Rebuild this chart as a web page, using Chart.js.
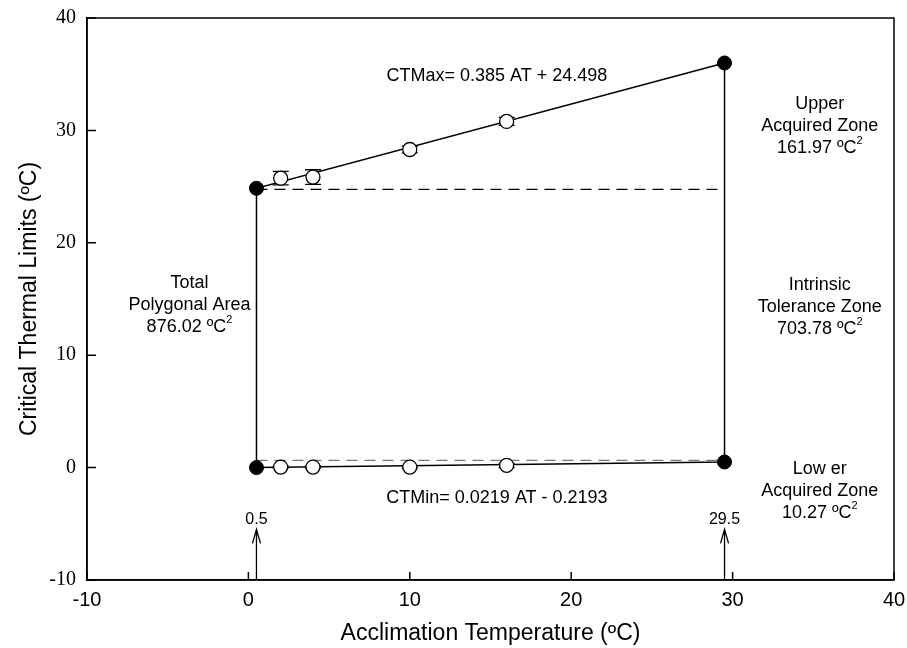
<!DOCTYPE html>
<html lang="en">

<head>
    <meta charset="UTF-8">
    <title>Critical Thermal Limits</title>
    <style>
        body { margin: 0; background: #fff; }
        #wrap { width: 907px; height: 648px; }
    </style>
</head>

<body>
    <div id="wrap">
        <canvas id="myChart" width="907" height="648"></canvas>
    </div>
    <script src="https://cdn.jsdelivr.net/npm/chart.js"></script>
    <script>
        // values
        const atLimits = [0.5, 29.5];
        const ctmaxLimits = [24.85, 36.0];
        const ctminLimits = [0.0, 0.5];
        const atMeans = [2, 4, 10, 16];
        const ctmaxMeans = [25.75, 25.85, 28.3, 30.8];
        const ctmaxErr = [0.6, 0.65, 0.3, 0.35];
        const ctminMeans = [0.05, 0.05, 0.05, 0.2];
        const ctminErr = [0.1, 0.1, 0.1, 0.2];
        const upperDashY = 24.75;
        const lowerDashY = 0.65;
        const arrowTop = -5.5;
        const axisMin = -10;
        const axisMax = 40;
        const tickStep = 10;

        const SANS = '"Liberation Sans", Arial, sans-serif';
        const SERIF = '"Liberation Serif", "Times New Roman", serif';

        const pts = (xs, ys) => xs.map((x, i) => ({ x: x, y: ys[i] }));

        const polygon = [
            { x: atLimits[0], y: ctminLimits[0] },
            { x: atLimits[0], y: ctmaxLimits[0] },
            { x: atLimits[1], y: ctmaxLimits[1] },
            { x: atLimits[1], y: ctminLimits[1] },
            { x: atLimits[0], y: ctminLimits[0] }
        ];

        // text blocks: [x, y, lines]
        const notes = [
            { x: 15.4, y: 34.8, lines: [['CTMax= 0.385 AT + 24.498', '']] },
            { x: 15.4, y: -2.7, lines: [['CTMin= 0.0219 AT - 0.2193', '']] },
            { x: -3.65, y: 14.45, lines: [['Total', ''], ['Polygonal Area', ''], ['876.02 ºC', '2']] },
            { x: 35.4, y: 30.4, lines: [['Upper', ''], ['Acquired Zone', ''], ['161.97 ºC', '2']] },
            { x: 35.4, y: 14.3, lines: [['Intrinsic', ''], ['Tolerance Zone', ''], ['703.78 ºC', '2']] },
            { x: 35.4, y: -2.1, lines: [['Low er', ''], ['Acquired Zone', ''], ['10.27 ºC', '2']] }
        ];

        const extras = {
            id: 'extras',
            beforeDatasetsDraw(chart) {
                const ctx = chart.ctx;
                const xs = chart.scales.x, ys = chart.scales.y;
                ctx.save();
                ctx.strokeStyle = '#000';
                ctx.lineWidth = 1.3;
                const bars = (means, errs) => {
                    atMeans.forEach((a, i) => {
                        const px = xs.getPixelForValue(a);
                        const top = ys.getPixelForValue(means[i] + errs[i]);
                        const bot = ys.getPixelForValue(means[i] - errs[i]);
                        ctx.beginPath();
                        ctx.moveTo(px, top); ctx.lineTo(px, bot);
                        ctx.moveTo(px - 8, top); ctx.lineTo(px + 8, top);
                        ctx.moveTo(px - 8, bot); ctx.lineTo(px + 8, bot);
                        ctx.stroke();
                    });
                };
                bars(ctmaxMeans, ctmaxErr);
                bars(ctminMeans, ctminErr);
                ctx.restore();
            },
            afterDraw(chart) {
                const ctx = chart.ctx;
                const a = chart.chartArea;
                const xs = chart.scales.x, ys = chart.scales.y;
                ctx.save();
                ctx.strokeStyle = '#000';
                ctx.lineWidth = 1.5;
                // frame
                ctx.strokeRect(a.left, a.top, a.right - a.left, a.bottom - a.top);
                // inner ticks
                ctx.beginPath();
                xs.ticks.forEach(t => {
                    const px = xs.getPixelForValue(t.value);
                    ctx.moveTo(px, a.bottom); ctx.lineTo(px, a.bottom - 8);
                });
                ys.ticks.forEach(t => {
                    const py = ys.getPixelForValue(t.value);
                    ctx.moveTo(a.left, py); ctx.lineTo(a.left + 9, py);
                });
                ctx.stroke();

                // arrows
                ctx.lineWidth = 1.3;
                ctx.fillStyle = '#000';
                ctx.font = '16px ' + SANS;
                ctx.textAlign = 'center';
                ctx.textBaseline = 'middle';
                atLimits.forEach(v => {
                    const px = xs.getPixelForValue(v);
                    const tip = ys.getPixelForValue(arrowTop);
                    ctx.beginPath();
                    ctx.moveTo(px, a.bottom); ctx.lineTo(px, tip);
                    ctx.moveTo(px - 4, tip + 14); ctx.lineTo(px, tip); ctx.lineTo(px + 4, tip + 14);
                    ctx.stroke();
                    ctx.fillText(String(v), px, tip - 10);
                });

                // annotations
                ctx.font = '18px ' + SANS;
                notes.forEach(n => {
                    const cx = xs.getPixelForValue(n.x);
                    const cy = ys.getPixelForValue(n.y);
                    const start = cy - (n.lines.length - 1) / 2 * 22;
                    n.lines.forEach((ln, i) => {
                        const y = start + i * 22;
                        ctx.font = '18px ' + SANS;
                        const w = ctx.measureText(ln[0]).width;
                        ctx.font = '11px ' + SANS;
                        const sw = ln[1] ? ctx.measureText(ln[1]).width : 0;
                        const left = cx - (w + sw) / 2;
                        ctx.textAlign = 'left';
                        ctx.font = '18px ' + SANS;
                        ctx.fillText(ln[0], left, y);
                        if (ln[1]) {
                            ctx.font = '11px ' + SANS;
                            ctx.fillText(ln[1], left + w, y - 7);
                        }
                    });
                });
                ctx.restore();
            }
        };

        new Chart(document.getElementById('myChart'), {
            type: 'scatter',
            data: {
                datasets: [
                    {
                        label: 'limits',
                        data: pts(atLimits, ctmaxLimits).concat(pts(atLimits, ctminLimits)),
                        pointRadius: 7,
                        pointBackgroundColor: '#000',
                        pointBorderColor: '#000',
                        order: 0
                    },
                    {
                        label: 'CTMax means',
                        data: pts(atMeans, ctmaxMeans),
                        pointRadius: 7,
                        pointBackgroundColor: '#fff',
                        pointBorderColor: '#000',
                        pointBorderWidth: 1.3,
                        order: 1
                    },
                    {
                        label: 'CTMin means',
                        data: pts(atMeans, ctminMeans),
                        pointRadius: 7,
                        pointBackgroundColor: '#fff',
                        pointBorderColor: '#000',
                        pointBorderWidth: 1.3,
                        order: 1
                    },
                    {
                        label: 'polygon',
                        data: polygon,
                        showLine: true,
                        pointRadius: 0,
                        borderColor: '#000',
                        borderWidth: 1.5,
                        order: 3
                    },
                    {
                        label: 'upper dash',
                        data: [{ x: atLimits[0], y: upperDashY }, { x: atLimits[1], y: upperDashY }],
                        showLine: true,
                        pointRadius: 0,
                        borderColor: '#000',
                        borderWidth: 1.2,
                        borderDash: [11, 7],
                        order: 4
                    },
                    {
                        label: 'lower dash',
                        data: [{ x: atLimits[0], y: lowerDashY }, { x: atLimits[1], y: lowerDashY }],
                        showLine: true,
                        pointRadius: 0,
                        borderColor: '#777',
                        borderWidth: 1.2,
                        borderDash: [11, 7],
                        order: 4
                    }
                ]
            },
            options: {
                responsive: false,
                animation: false,
                events: [],
                layout: { padding: { top: 18, right: 13, left: 0, bottom: 0 } },
                plugins: {
                    legend: { display: false },
                    tooltip: { enabled: false }
                },
                scales: {
                    x: {
                        type: 'linear',
                        min: axisMin,
                        max: axisMax,
                        ticks: { stepSize: tickStep, color: '#000', padding: 8, font: { family: SANS, size: 20 } },
                        grid: { drawOnChartArea: false, drawTicks: false },
                        border: { color: '#000', width: 1.5 },
                        title: {
                            display: true,
                            text: 'Acclimation Temperature (ºC)',
                            color: '#000',
                            font: { family: SANS, size: 23 },
                            padding: { top: 0, bottom: 1 }
                        },
                        afterFit(scale) {
                            scale.height = 68;
                            scale.paddingLeft = 0;
                            scale.paddingRight = 0;
                        }
                    },
                    y: {
                        type: 'linear',
                        min: axisMin,
                        max: axisMax,
                        ticks: { stepSize: tickStep, color: '#000', padding: 11, font: { family: SERIF, size: 20 } },
                        grid: { drawOnChartArea: false, drawTicks: false },
                        border: { color: '#000', width: 1.5 },
                        title: {
                            display: true,
                            text: 'Critical Thermal Limits (ºC)',
                            color: '#000',
                            font: { family: SANS, size: 23 },
                            padding: { top: 16, bottom: 0 }
                        },
                        afterFit(scale) {
                            scale.width = 87;
                            scale.paddingTop = 0;
                            scale.paddingBottom = 0;
                        }
                    }
                }
            },
            plugins: [extras]
        });
    </script>
</body>

</html>
